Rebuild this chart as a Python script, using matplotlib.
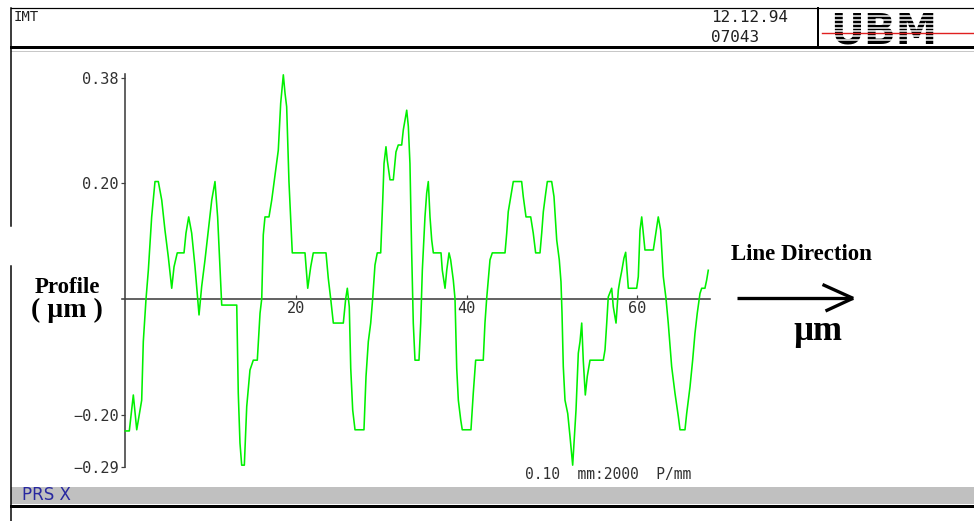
import matplotlib
matplotlib.use("Agg")
import matplotlib.pyplot as plt
from matplotlib.patches import Rectangle

# ---------------- data (µm) ----------------
profile_x = [0.0, 0.47, 0.94, 1.34, 1.72, 1.92, 2.11, 2.43, 2.70, 3.09, 3.48, 3.87, 4.27, 4.65,
             5.04, 5.44, 5.71, 6.09, 6.88, 7.11, 7.43, 7.78, 8.17, 8.48, 8.64, 8.95, 9.34, 9.73,
             10.13, 10.51, 10.82, 11.10, 11.30, 13.06, 13.24, 13.44, 13.64, 13.95, 14.23, 14.61,
             15.00, 15.47, 15.79, 15.99, 16.17, 16.37, 16.84, 17.16, 17.54, 17.93, 18.21, 18.52,
             18.72, 18.91, 19.18, 19.42, 19.57, 21.06, 21.38, 21.73, 22.03, 23.52, 23.79, 24.07,
             24.38, 25.55, 25.83, 26.02, 26.25, 26.42, 26.65, 26.92, 27.97, 28.21, 28.48, 28.76,
             28.99, 29.26, 29.53, 29.93, 30.17, 30.32, 30.55, 30.70, 31.02, 31.41, 31.72, 31.99,
             32.39, 32.58, 32.98, 33.17, 33.36, 33.56, 33.75, 33.95, 34.42, 34.62, 34.81, 35.12,
             35.32, 35.51, 35.71, 35.91, 36.10, 37.00, 37.15, 37.47, 37.67, 37.94, 38.13, 38.44,
             38.64, 38.84, 39.03, 39.31, 39.49, 40.51, 40.78, 41.06, 41.95, 42.15, 42.35, 42.54,
             42.74, 43.01, 44.50, 44.70, 44.88, 45.17, 45.47, 46.45, 46.64, 46.96, 47.51, 47.81,
             48.09, 48.60, 48.80, 48.99, 49.27, 49.46, 49.97, 50.24, 50.56, 50.86, 51.06, 51.18,
             51.33, 51.53, 51.85, 52.12, 52.43, 52.59, 52.82, 53.09, 53.29, 53.49, 53.67, 53.91,
             54.14, 54.46, 56.02, 56.22, 56.42, 56.60, 57.00, 57.19, 57.51, 57.78, 57.97, 58.17,
             58.44, 58.64, 58.95, 59.93, 60.12, 60.32, 60.52, 60.90, 61.88, 62.46, 62.74, 63.05,
             63.37, 63.63, 64.03, 64.42, 64.81, 65.01, 65.59, 65.79, 66.18, 66.49, 66.76, 67.03,
             67.35, 67.55, 67.93, 68.13, 68.32]
profile_y = [-0.228, -0.228, -0.166, -0.226, -0.192, -0.175, -0.074, 0.0, 0.049, 0.141, 0.202,
             0.202, 0.170, 0.118, 0.072, 0.018, 0.055, 0.079, 0.079, 0.113, 0.141, 0.113, 0.055,
             0.0, -0.028, 0.021, 0.067, 0.118, 0.170, 0.202, 0.141, 0.053, -0.011, -0.011,
             -0.163, -0.249, -0.287, -0.287, -0.186, -0.123, -0.106, -0.106, -0.025, 0.0, 0.110,
             0.141, 0.141, 0.170, 0.213, 0.256, 0.337, 0.386, 0.354, 0.331, 0.202, 0.124, 0.079,
             0.079, 0.018, 0.055, 0.079, 0.079, 0.035, 0.0, -0.042, -0.042, 0.0, 0.018, -0.014,
             -0.120, -0.192, -0.226, -0.226, -0.134, -0.074, -0.042, 0.0, 0.058, 0.079, 0.079,
             0.170, 0.233, 0.262, 0.239, 0.205, 0.205, 0.253, 0.265, 0.265, 0.291, 0.325, 0.297,
             0.233, 0.081, -0.042, -0.106, -0.106, -0.042, 0.049, 0.141, 0.182, 0.202, 0.141,
             0.101, 0.079, 0.079, 0.049, 0.018, 0.049, 0.079, 0.067, 0.032, 0.0, -0.120, -0.175,
             -0.209, -0.226, -0.226, -0.163, -0.106, -0.106, -0.042, 0.0, 0.032, 0.067, 0.079,
             0.079, 0.113, 0.150, 0.176, 0.202, 0.202, 0.176, 0.141, 0.141, 0.113, 0.079, 0.079,
             0.113, 0.150, 0.182, 0.202, 0.202, 0.176, 0.101, 0.067, 0.029, -0.025, -0.117,
             -0.175, -0.198, -0.238, -0.287, -0.249, -0.192, -0.094, -0.074, -0.042, -0.106,
             -0.166, -0.134, -0.106, -0.106, -0.088, -0.042, 0.003, 0.018, -0.014, -0.042, 0.015,
             0.032, 0.047, 0.070, 0.080, 0.018, 0.018, 0.038, 0.118, 0.141, 0.084, 0.084, 0.141,
             0.118, 0.038, 0.0, -0.042, -0.117, -0.163, -0.203, -0.226, -0.226, -0.198, -0.152,
             -0.106, -0.060, -0.025, 0.009, 0.018, 0.018, 0.032, 0.049]

y_ticks = [-0.29, -0.20, 0.20, 0.38]
y_tick_labels = ["\u22120.29", "\u22120.20", "0.20", "0.38"]
x_ticks = [20, 40, 60]
x_tick_labels = ["20", "40", "60"]

header_left = "IMT"
header_date = "12.12.94"
header_id = "07043"
footer_label = "PRS X"
scale_note = "0.10  mm:2000  P/mm"

# ---------------- figure ----------------
W, H = 974, 521
fig = plt.figure(figsize=(W / 100, H / 100), dpi=100)
fig.patch.set_facecolor("white")

bg = fig.add_axes([0, 0, 1, 1])
bg.set_xlim(0, W)
bg.set_ylim(H, 0)
bg.axis("off")

PX = 0.72  # points per pixel

# header box
bg.plot([11, W], [8, 8], color="black", lw=1.2 * PX)
bg.plot([11, W], [47, 47], color="black", lw=3 * PX)
bg.plot([818, 818], [8, 47], color="black", lw=2 * PX)
bg.plot([11, W], [50.5, 50.5], color="#c8c8c8", lw=1 * PX)
# left border (with gap behind the "Profile" label)
bg.plot([11, 11], [8, 226], color="black", lw=1.5 * PX)
bg.plot([11, 11], [266, H], color="black", lw=1.5 * PX)

mono = "DejaVu Sans Mono"
bg.text(14, 17, header_left, family=mono, size=10, color="#202020", va="center", ha="left")
bg.text(711, 17, header_date, family=mono, size=11.5, color="#202020", va="center", ha="left")
bg.text(711, 38, header_id, family=mono, size=11.5, color="#202020", va="center", ha="left")

# logo (striped letters with red line)
bg.text(830, 44, "UBM", family="DejaVu Sans", weight="bold", size=30, color="black",
        va="baseline", ha="left", zorder=3)
for yy in [15.5, 19.5, 23.5, 27.5, 31.0, 36.0, 40.0]:
    bg.plot([824, W], [yy, yy], color="white", lw=1.5 * PX, zorder=4)
bg.plot([822, W], [32.5, 32.5], color="#e02020", lw=1.4 * PX, zorder=5)

# footer bar
bg.add_patch(Rectangle((11, 487), W - 11, 17, facecolor="#c0c0c0", edgecolor="none"))
bg.plot([11, W], [505.5, 505.5], color="black", lw=3 * PX)
bg.text(22, 495.5, footer_label, family="DejaVu Sans", size=12, color="#2828a0",
        va="center", ha="left")

# serif annotations
serif = "Liberation Serif"
bg.text(67, 293, "Profile", family=serif, weight="bold", size=16.5, ha="center",
        va="baseline", color="black")
bg.text(67, 317, "( \u00b5m )", family=serif, weight="bold", size=20, ha="center",
        va="baseline", color="black")
bg.text(731, 259.5, "Line Direction", family=serif, weight="bold", size=16.5, ha="left",
        va="baseline", color="black")
bg.text(818, 340, "\u00b5m", family=serif, weight="bold", size=25, ha="center",
        va="baseline", color="black")
# arrow
bg.plot([737, 853], [298.3, 298.3], color="black", lw=3.3 * PX, solid_capstyle="butt")
bg.plot([822.5, 853], [284.5, 298.3], color="black", lw=3.3 * PX, solid_capstyle="butt")
bg.plot([825.5, 853], [311, 298.3], color="black", lw=3.3 * PX, solid_capstyle="butt")

bg.text(525, 474, scale_note, family=mono, size=10.5, color="#303030", ha="left", va="center")

# ---------------- profile axes ----------------
y_top_px, y_bot_px = 72.5, 466.9
ax = fig.add_axes([125.3 / W, (H - y_bot_px) / H, 584.5 / W, (y_bot_px - y_top_px) / H])
ax.patch.set_alpha(0)
ax.set_xlim(0, 68.5)
ax.set_ylim(-0.29, 0.39)

ax.plot(profile_x, profile_y, color="#00f000", lw=1.6 * PX, zorder=3, clip_on=False)

for s in ["top", "right"]:
    ax.spines[s].set_visible(False)
ax.spines["left"].set_bounds(-0.29, 0.387)
ax.spines["left"].set_color("#404040")
ax.spines["left"].set_linewidth(1.6 * PX)
ax.spines["bottom"].set_position(("data", 0))
ax.spines["bottom"].set_bounds(-0.35, 68.5)
ax.spines["bottom"].set_color("#404040")
ax.spines["bottom"].set_linewidth(1.6 * PX)

ax.set_yticks(y_ticks)
ax.set_yticklabels(y_tick_labels)
ax.set_xticks(x_ticks)
ax.set_xticklabels(x_tick_labels)
ax.tick_params(axis="y", direction="out", length=4 * PX, width=1.2 * PX, color="#404040",
               pad=2, labelsize=11, labelcolor="#303030")
ax.tick_params(axis="x", direction="in", length=4 * PX, width=1.2 * PX, color="#404040",
               pad=2, labelsize=11, labelcolor="#303030")
for lab in ax.get_xticklabels() + ax.get_yticklabels():
    lab.set_family(mono)

fig.savefig("out.png", dpi=100, facecolor="white")
